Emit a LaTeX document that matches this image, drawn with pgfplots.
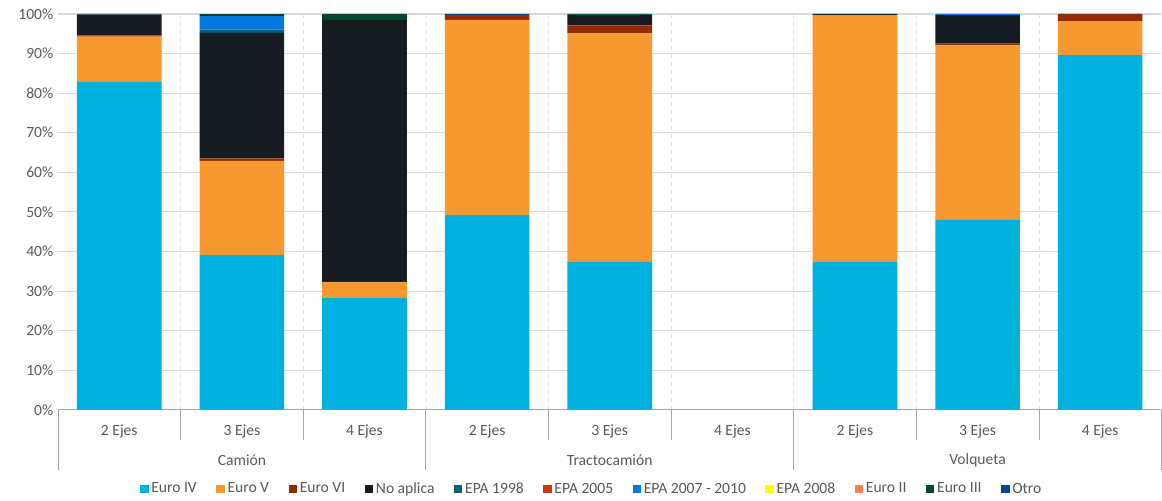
\documentclass[border=0pt]{standalone}
\usepackage{fontspec}
\setmainfont{Carlito}
\usepackage{pgfplots}
\usepackage{pgfplotstable}
\pgfplotsset{compat=1.18}
\definecolor{eiv}{HTML}{00B0DF}
\definecolor{ev}{HTML}{F7992E}
\definecolor{evi}{HTML}{922B00}
\definecolor{na}{HTML}{171C22}
\definecolor{e98}{HTML}{005F73}
\definecolor{e05}{HTML}{C8380E}
\definecolor{e0710}{HTML}{0078E0}
\definecolor{e08}{HTML}{FFFF00}
\definecolor{eii}{HTML}{FF7F50}
\definecolor{eiii}{HTML}{00472E}
\definecolor{otro}{HTML}{004A8D}
\definecolor{txt}{HTML}{595959}
\definecolor{gridc}{HTML}{D9D9D9}
\pgfplotstableread{
x iv v vi na e98 e05 e0710 e08 eii eiii otro
0 83.0 11.3 0.3 5.2 0.1 0 0 0 0 0 0.1
1 39.1 23.8 0.6 31.7 0.85 0 3.4 0 0 0.5 0
2 28.3 4.0 0 66.2 0 0 0 0 0 1.5 0
3 49.2 49.3 1.3 0 0 0 0 0 0 0 0.2
4 37.4 57.7 2.0 2.6 0.3 0 0 0 0 0 0
5 0 0 0 0 0 0 0 0 0 0 0
6 37.4 62.3 0 0.3 0 0 0 0 0 0 0
7 48.0 44.1 0.4 7.2 0 0 0.3 0 0 0 0
8 89.6 8.6 1.8 0 0 0 0 0 0 0 0
}\data
\begin{document}
\begin{tikzpicture}
\begin{axis}[
  scale only axis, width=828pt, height=297pt,
  ybar stacked, bar width=0.69,
  xmin=-0.5, xmax=8.5, ymin=0, ymax=100,
  xtick=data,
  xticklabels={2 Ejes,3 Ejes,4 Ejes,2 Ejes,3 Ejes,4 Ejes,2 Ejes,3 Ejes,4 Ejes},
  x tick label style={yshift=-7.5pt},
  major x tick style={draw=none},
  minor xtick={0.5,1.5,...,7.5},
  minor x tick style={draw=none},
  xminorgrids, minor x grid style={gridc!70, dashed, thin},
  ytick={0,10,...,100},
  yticklabel={\pgfmathprintnumber{\tick}\%},
  /pgf/number format/assume math mode=true,
  ymajorgrids, major y grid style={gridc, line width=0.8pt},
  ytick style={draw=none},
  axis line style={draw=none},
  tick label style={font=\fontsize{11.7}{13}\selectfont, text=txt},
  clip=false,
  legend columns=11,
  legend style={draw=none, at={(0.484,-0.2)}, anchor=center, font=\fontsize{11.7}{13}\selectfont, text=txt,
    /tikz/every even column/.append style={column sep=12.6pt}},
  legend image code/.code={\fill[#1] (0pt,-3.2pt) rectangle (6.4pt,3.2pt);},
  every axis plot/.append style={draw=none},
]
\addplot[fill=eiv] table[x=x,y=iv]{\data};
\addplot[fill=ev] table[x=x,y=v]{\data};
\addplot[fill=evi] table[x=x,y=vi]{\data};
\addplot[fill=na] table[x=x,y=na]{\data};
\addplot[fill=e98] table[x=x,y=e98]{\data};
\addplot[fill=e05] table[x=x,y=e05]{\data};
\addplot[fill=e0710] table[x=x,y=e0710]{\data};
\addplot[fill=e08] table[x=x,y=e08]{\data};
\addplot[fill=eii] table[x=x,y=eii]{\data};
\addplot[fill=eiii] table[x=x,y=eiii]{\data};
\addplot[fill=otro] table[x=x,y=otro]{\data};
\legend{Euro IV,Euro V,Euro VI,No aplica,EPA 1998,EPA 2005,EPA 2007 - 2010,EPA 2008,Euro II,Euro III,Otro}
\draw[color=gray!70, line width=0.8pt] (axis cs:-0.5,0) -- (axis cs:8.5,0);
\draw[color=gray!70, line width=0.5pt] (axis cs:0.5,0) -- ++(0pt,-22.5pt);
\draw[color=gray!70, line width=0.5pt] (axis cs:1.5,0) -- ++(0pt,-22.5pt);
\draw[color=gray!70, line width=0.5pt] (axis cs:3.5,0) -- ++(0pt,-22.5pt);
\draw[color=gray!70, line width=0.5pt] (axis cs:4.5,0) -- ++(0pt,-22.5pt);
\draw[color=gray!70, line width=0.5pt] (axis cs:6.5,0) -- ++(0pt,-22.5pt);
\draw[color=gray!70, line width=0.5pt] (axis cs:7.5,0) -- ++(0pt,-22.5pt);
\draw[color=gray!70, line width=0.5pt] (axis cs:-0.5,0) -- ++(0pt,-45pt);
\draw[color=gray!70, line width=0.5pt] (axis cs:2.5,0) -- ++(0pt,-45pt);
\draw[color=gray!70, line width=0.5pt] (axis cs:5.5,0) -- ++(0pt,-45pt);
\draw[color=gray!70, line width=0.5pt] (axis cs:8.5,0) -- ++(0pt,-45pt);
\node[text=txt, font=\fontsize{11.7}{13}\selectfont] at ([yshift=-38pt]axis cs:1,0) {Camión};
\node[text=txt, font=\fontsize{11.7}{13}\selectfont] at ([yshift=-38pt]axis cs:4,0) {Tractocamión};
\node[text=txt, font=\fontsize{11.7}{13}\selectfont] at ([yshift=-38pt]axis cs:7,0) {Volqueta};
\path ([xshift=-43.5pt,yshift=-67.5pt]rel axis cs:0,0) rectangle ([yshift=10.5pt]rel axis cs:1,1);
\end{axis}
\end{tikzpicture}
\end{document}
